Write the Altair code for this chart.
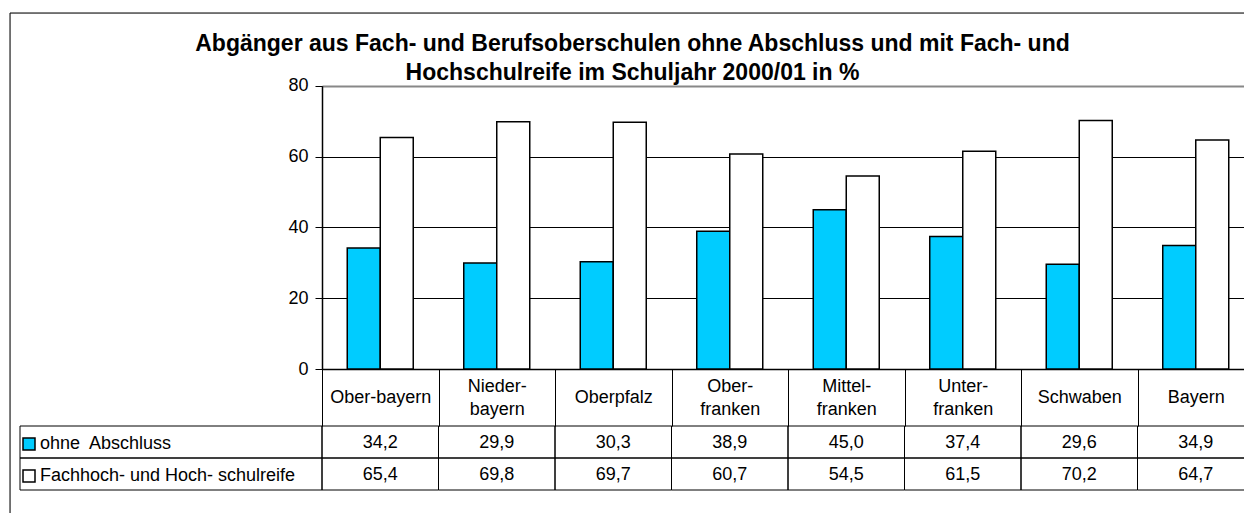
import altair as alt
import pandas as pd

# ---- data -------------------------------------------------------------
regions = ["Ober-bayern", "Nieder-\nbayern", "Oberpfalz", "Ober-\nfranken",
           "Mittel-\nfranken", "Unter-\nfranken", "Schwaben", "Bayern"]
series = ["ohne\u00a0 Abschluss", "Fachhoch- und Hoch- schulreife"]
ohne_abschluss = [34.2, 29.9, 30.3, 38.9, 45.0, 37.4, 29.6, 34.9]
hochschulreife = [65.4, 69.8, 69.7, 60.7, 54.5, 61.5, 70.2, 64.7]
y_ticks = [0, 20, 40, 60, 80]
title_lines = ["Abgänger aus Fach- und Berufsoberschulen ohne Abschluss und mit Fach- und",
               "Hochschulreife im Schuljahr 2000/01 in %"]
colors = ["#00CCFF", "#FFFFFF"]

records = []
for i, r in enumerate(regions):
    records.append({"region": r, "series": series[0], "value": ohne_abschluss[i]})
    records.append({"region": r, "series": series[1], "value": hochschulreife[i]})
df = pd.DataFrame(records)
df["label"] = df["value"].map(lambda v: f"{v:.1f}".replace(".", ","))
series_df = pd.DataFrame({"series": series})

# ---- layout (view coordinates) -----------------------------------------
FONT = "Liberation Sans"
FS = 18
W, H = 1234, 500
PLOT_L, PLOT_R = 312, 1244
Y0, Y80 = 356, 72.7
ROW_TOP, ROW_BOT = 413, 477
LEFT_COL = 10

NB = "\u00a0"
is_two = "indexof(datum.label, '\\n') >= 0"
label_expr = f"{is_two} ? split(datum.label, '\\n') : ['{NB}', datum.label]"

x_scale = alt.Scale(domain=regions, range=[PLOT_L, PLOT_R], paddingInner=0, paddingOuter=0)
x_axis = alt.Axis(orient="bottom", offset=-(H - Y0), title=None, tickBand="extent",
                  tickSize=ROW_TOP - Y0, tickColor="black", tickWidth=1,
                  domainColor="black", domainWidth=1.5,
                  labelExpr=label_expr, labelFont=FONT, labelFontSize=FS,
                  labelColor="black", labelPadding=-(ROW_TOP - Y0) + 17, labelBaseline="middle",
                  labelLineHeight=alt.ExprRef(expr=f"{is_two} ? 23 : 11.5"),
                  labelAngle=0, labelOverlap=False, labelLimit=200, grid=False)

y_axis = alt.Axis(orient="left", offset=-PLOT_L, values=y_ticks, title=None, tickSize=7,
                  tickColor="black", domainColor="black", domainWidth=1.5,
                  labelFont=FONT, labelFontSize=FS, labelColor="black", labelPadding=7,
                  grid=True,
                  gridColor={"condition": {"test": "datum.value === 80", "value": "#888888"}, "value": "#000000"},
                  gridWidth={"condition": {"test": "datum.value === 80", "value": 2}, "value": 1})

row_scale = alt.Scale(domain=series, type="band", range=[ROW_TOP, ROW_BOT], paddingInner=0, paddingOuter=0)

legend = alt.Legend(orient="none", legendX=10, legendY=422, direction="vertical", title=None,
                    symbolType="square", symbolSize=144, symbolStrokeColor="black",
                    symbolStrokeWidth=1.5, symbolOpacity=1, labelFont=FONT, labelFontSize=FS,
                    labelColor="black", labelOffset=2, rowPadding=14, padding=0, labelLimit=400)

bars = alt.Chart(df).mark_bar(stroke="black", strokeWidth=1.5).encode(
    x=alt.X("region:N", sort=regions, scale=x_scale, axis=x_axis),
    xOffset=alt.XOffset("series:N", sort=series,
                        scale=alt.Scale(domain=series, paddingInner=0, paddingOuter=0.765)),
    y=alt.Y("value:Q", scale=alt.Scale(domain=[0, 80], range=[Y0, Y80], nice=False), axis=y_axis),
    fill=alt.Fill("series:N", scale=alt.Scale(domain=series, range=colors), legend=legend),
)

cells = alt.Chart(df).mark_rect(fill="transparent", stroke="black", strokeWidth=1).encode(
    x=alt.X("region:N", sort=regions, scale=x_scale, axis=x_axis),
    y=alt.Y("series:N", scale=row_scale, axis=None),
)

left_cells = alt.Chart(series_df).mark_rect(fill="transparent", stroke="black", strokeWidth=1).encode(
    x=alt.value(LEFT_COL), x2=alt.value(PLOT_L),
    y=alt.Y("series:N", scale=row_scale, axis=None),
)

texts = alt.Chart(df).mark_text(font=FONT, fontSize=FS, color="black", dy=1).encode(
    x=alt.X("region:N", sort=regions, scale=x_scale, axis=x_axis),
    y=alt.Y("series:N", scale=row_scale, axis=None),
    text="label:N",
)

# outer chart frame (only its left and top edges fall inside the picture)
frame = alt.Chart(series_df.head(1)).mark_rect(fill="transparent", stroke="black", strokeWidth=1).encode(
    x=alt.value(0), x2=alt.value(W + 60), y=alt.value(0), y2=alt.value(H + 60),
)

chart = alt.layer(frame, bars, cells, left_cells, texts).resolve_scale(y="independent").properties(
    width=W, height=H,
    autosize=alt.AutoSizeParams(type="none"),
    padding={"left": 2, "top": 5, "right": 0, "bottom": 0},
    title=alt.TitleParams(text=title_lines, font=FONT, fontSize=23, fontWeight="bold",
                          color="black", anchor="middle", baseline="top", dx=5.5,
                          lineHeight=28.5, offset=-72),
).configure_view(stroke="transparent", strokeWidth=0).configure(background="white")

chart.save("out.html", embed_options={"renderer": "svg", "actions": False})
